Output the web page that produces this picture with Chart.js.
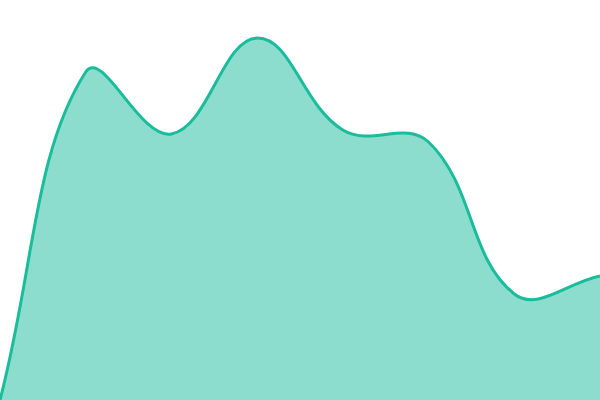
<!DOCTYPE html>
<html lang="en">
<head>
    <meta charset="UTF-8">
    <title>Area chart</title>
    <script src="https://cdn.jsdelivr.net/npm/chart.js"></script>
    <style>
        html, body {
            margin: 0;
            padding: 0;
            background: #fff;
        }
        .chart-container {
            width: 600px;
            height: 400px;
            position: relative;
        }
    </style>
</head>
<body>
    <div class="chart-container">
        <canvas id="areaChart"></canvas>
    </div>

    <script>
        const labels = ['1', '2', '3', '4', '5', '6', '7', '8'];
        const values = [0, 82, 66.5, 90.5, 67.5, 64.5, 26.5, 31];

        const ctx = document.getElementById('areaChart').getContext('2d');
        new Chart(ctx, {
            type: 'line',
            data: {
                labels: labels,
                datasets: [{
                    data: values,
                    fill: 'origin',
                    backgroundColor: 'rgba(26, 188, 156, 0.5)',
                    borderColor: '#1abc9c',
                    borderWidth: 3,
                    tension: 0.4,
                    pointRadius: 0,
                    pointHoverRadius: 0
                }]
            },
            options: {
                responsive: true,
                maintainAspectRatio: false,
                animation: false,
                layout: { padding: 0 },
                plugins: {
                    legend: { display: false },
                    tooltip: { enabled: false }
                },
                scales: {
                    x: { display: false },
                    y: { display: false, min: 0, max: 100 }
                }
            }
        });
    </script>
</body>
</html>
